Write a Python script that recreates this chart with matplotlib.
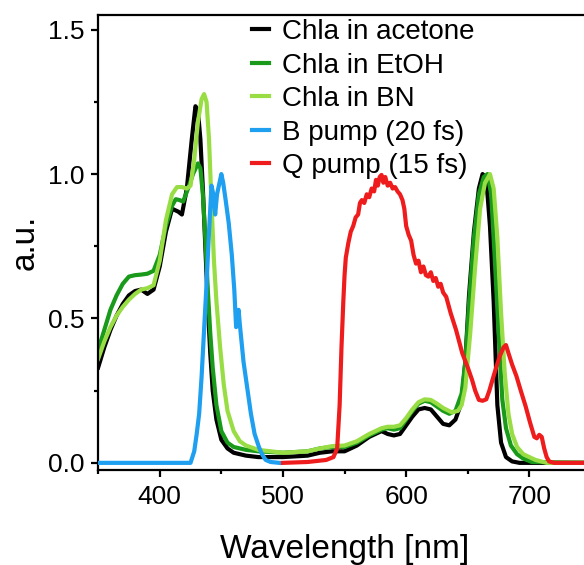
import matplotlib
matplotlib.use("Agg")
from matplotlib import pyplot as plt
from matplotlib.ticker import MultipleLocator

plt.rcParams['font.family'] = ['Liberation Sans', 'DejaVu Sans']

# Chla in acetone
wl_ace = [350, 355, 360, 365, 370, 375, 380, 385, 390, 395, 400, 405, 410, 415, 418,
          422, 426, 429, 431, 433, 435, 437, 439, 441, 443, 446, 450, 455, 460, 470,
          480, 500, 520, 530, 540, 550, 560, 570, 580, 585, 590, 595, 600, 605, 610,
          615, 620, 625, 630, 635, 640, 645, 648, 651, 655, 659, 662, 664, 666, 668,
          671, 674, 677, 681, 686, 692, 750]
ab_ace = [0.33, 0.40, 0.46, 0.51, 0.55, 0.58, 0.595, 0.60, 0.585, 0.60, 0.68, 0.80, 0.88, 0.87, 0.86,
          0.95, 1.12, 1.235, 1.22, 1.12, 0.95, 0.75, 0.55, 0.38, 0.25, 0.15, 0.08, 0.05, 0.035, 0.025,
          0.02, 0.02, 0.025, 0.035, 0.04, 0.04, 0.06, 0.09, 0.11, 0.10, 0.095, 0.10, 0.13, 0.16, 0.185,
          0.19, 0.185, 0.16, 0.135, 0.13, 0.15, 0.21, 0.35, 0.58, 0.80, 0.95, 1.0, 0.99, 0.93, 0.82,
          0.56, 0.2, 0.07, 0.02, 0.005, 0.0, 0.0]

# Chla in EtOH
wl_eth = [350, 355, 360, 365, 370, 375, 380, 385, 390, 395, 400, 405, 410, 413, 416,
          419, 423, 427, 431, 433, 435, 437, 439, 441, 443, 446, 450, 455, 460, 470,
          480, 500, 520, 530, 540, 550, 560, 570, 580, 585, 590, 595, 600, 605, 610,
          615, 620, 625, 630, 635, 640, 645, 648, 651, 655, 659, 663, 666, 669, 672,
          675, 678, 681, 685, 690, 695, 702, 750]
ab_eth = [0.39, 0.46, 0.53, 0.58, 0.62, 0.645, 0.65, 0.652, 0.655, 0.665, 0.72, 0.82, 0.89, 0.913, 0.91,
          0.905, 0.95, 1.0, 1.037, 1.02, 0.93, 0.78, 0.6, 0.45, 0.33, 0.2, 0.11, 0.07, 0.055, 0.045,
          0.04, 0.035, 0.04, 0.05, 0.055, 0.055, 0.07, 0.095, 0.115, 0.12, 0.115, 0.12, 0.15, 0.18, 0.205,
          0.215, 0.21, 0.195, 0.18, 0.17, 0.18, 0.24, 0.35, 0.55, 0.78, 0.93, 0.99, 1.0, 0.93, 0.7,
          0.45, 0.22, 0.12, 0.06, 0.03, 0.015, 0.003, 0.0]

# Chla in BN
wl_bn = [350, 355, 360, 365, 370, 375, 380, 385, 390, 395, 400, 405, 410, 414, 418,
         422, 425, 428, 431, 434, 436, 438, 440, 442, 444, 446, 449, 452, 455, 460,
         465, 470, 480, 500, 520, 530, 540, 550, 560, 570, 580, 585, 590, 595, 600,
         605, 610, 615, 620, 625, 630, 637, 642, 645, 648, 652, 656, 660, 664, 668,
         671, 674, 677, 680, 683, 686, 690, 695, 705, 714, 750]
ab_bn = [0.36, 0.42, 0.47, 0.51, 0.54, 0.565, 0.585, 0.60, 0.605, 0.615, 0.70, 0.84, 0.93, 0.955, 0.955,
         0.95, 0.96, 1.05, 1.18, 1.26, 1.277, 1.25, 1.12, 0.9, 0.7, 0.56, 0.4, 0.27, 0.18, 0.11,
         0.075, 0.06, 0.045, 0.035, 0.04, 0.05, 0.058, 0.06, 0.075, 0.1, 0.12, 0.125, 0.125, 0.13, 0.155,
         0.185, 0.21, 0.22, 0.218, 0.205, 0.19, 0.175, 0.18, 0.2, 0.26, 0.45, 0.68, 0.88, 0.97, 1.0,
         0.95, 0.78, 0.52, 0.31, 0.17, 0.1, 0.055, 0.03, 0.01, 0.0, 0.0]

# B pump spectrum (20 fs)
wl_b = [350, 400, 425, 428, 430, 432, 434, 436, 438, 440, 442, 443.5, 445, 446.5, 448,
        450, 451.5, 453.5, 456, 458.5, 460.5, 462, 463, 464, 465, 468, 471, 474, 477,
        480.5, 483, 486, 490, 497]
ab_b = [0.0, 0.0, 0.0, 0.04, 0.1, 0.17, 0.3, 0.46, 0.62, 0.8, 0.96, 0.93, 0.86, 0.93, 0.96,
        1.0, 0.97, 0.91, 0.83, 0.72, 0.6, 0.47, 0.5, 0.53, 0.48, 0.35, 0.26, 0.17, 0.1,
        0.055, 0.03, 0.01, 0.003, 0.0]

# Q pump spectrum (15 fs)
wl_q = [500, 520, 535, 541, 544, 546, 547.5, 549, 550, 551, 553, 555, 557, 559, 561,
        562.5, 564, 566, 568, 570, 572, 574, 575.5, 577, 578.5, 580, 581.5, 583, 585,
        587, 589, 591, 593, 595, 597, 598.5, 600, 602, 604, 606, 608, 610, 612, 614,
        616, 618, 620, 622, 624, 626, 628, 630, 632.5, 636, 640.5, 645.5, 650, 653.5, 656,
        659, 662, 665, 667.5, 670, 673, 676, 679, 681, 683, 686, 689.5, 693, 697,
        700.5, 704, 706, 708, 710, 712, 714, 716, 720, 750]
ab_q = [0.0, 0.003, 0.01, 0.02, 0.05, 0.2, 0.4, 0.56, 0.65, 0.71, 0.76, 0.8, 0.82, 0.85, 0.86,
        0.9, 0.91, 0.9, 0.93, 0.92, 0.95, 0.94, 0.98, 0.96, 0.99, 0.997, 0.97, 0.99, 0.96,
        0.97, 0.95, 0.955, 0.94, 0.93, 0.91, 0.88, 0.82, 0.79, 0.77, 0.72, 0.69, 0.7, 0.66, 0.68,
        0.65, 0.645, 0.66, 0.63, 0.64, 0.61, 0.62, 0.59, 0.575, 0.52, 0.46, 0.38, 0.33, 0.287, 0.25,
        0.218, 0.215, 0.22, 0.25, 0.287, 0.33, 0.37, 0.4, 0.408, 0.38, 0.34, 0.3, 0.25, 0.195,
        0.14, 0.09, 0.085, 0.097, 0.09, 0.05, 0.02, 0.005, 0.0, 0.0]

fig = plt.figure(figsize=(5.84, 5.65), dpi=100)
ax = fig.add_axes([0.168, 0.168, 0.844, 0.805])

lw = 3.0
ax.plot(wl_ace, ab_ace, color='black', lw=lw, label='Chla in acetone', zorder=2)
ax.plot(wl_eth, ab_eth, color='#1a9a1a', lw=lw, label='Chla in EtOH', zorder=2)
ax.plot(wl_bn, ab_bn, color='#99dd44', lw=lw, label='Chla in BN', zorder=2)
ax.plot(wl_b, ab_b, color='#1e9ff0', lw=lw, label='B pump (20 fs)', zorder=3)
ax.plot(wl_q, ab_q, color='#ee1c1c', lw=lw, label='Q pump (15 fs)', zorder=3)

ax.set_xlim(350, 750)
ax.set_ylim(-0.025, 1.55)
ax.xaxis.set_major_locator(MultipleLocator(100))
ax.xaxis.set_minor_locator(MultipleLocator(50))
ax.yaxis.set_major_locator(MultipleLocator(0.5))
ax.yaxis.set_minor_locator(MultipleLocator(0.25))
ax.yaxis.set_major_formatter(plt.FormatStrFormatter('%.1f'))

for s in ax.spines.values():
    s.set_linewidth(1.6)
ax.tick_params(which='major', direction='out', length=5, width=1.6, labelsize=19)
ax.tick_params(which='minor', direction='out', length=3, width=1.6)
ax.tick_params(axis='y', pad=5)
ax.tick_params(axis='x', pad=6)

ax.set_xlabel('Wavelength [nm]', fontsize=24)
ax.set_ylabel('a.u.', fontsize=24)
ax.xaxis.set_label_coords(0.5, -0.141)
ax.yaxis.set_label_coords(-0.117, 0.5)

ax.legend(loc='upper left', bbox_to_anchor=(0.29, 1.016), frameon=False,
          fontsize=20, handlelength=0.6, handletextpad=0.48, labelspacing=0.27,
          borderaxespad=0)

fig.savefig('out.png', dpi=100)
